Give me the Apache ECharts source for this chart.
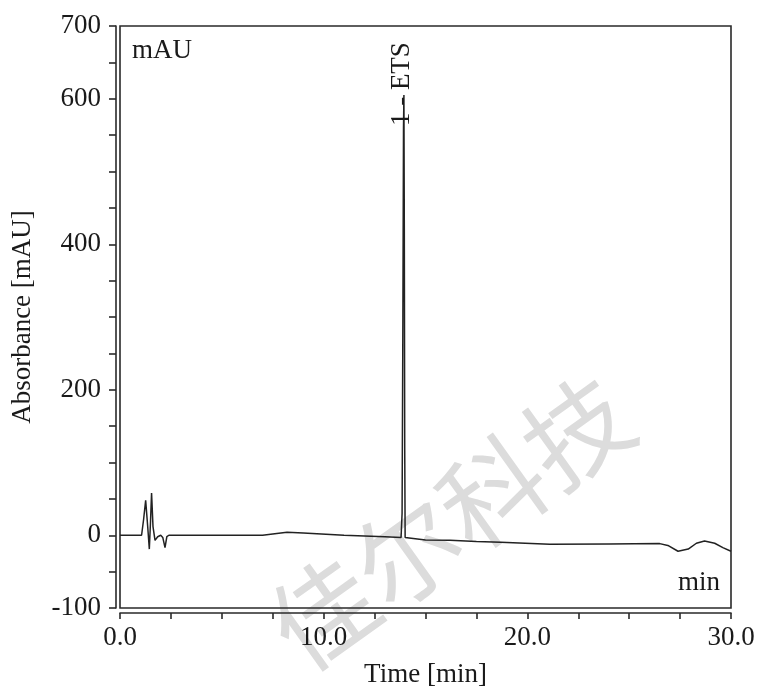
<!DOCTYPE html>
<html>
<head>
<meta charset="utf-8">
<script src="https://cdn.jsdelivr.net/npm/echarts@6/dist/echarts.min.js"></script>
<style>
  html, body { margin: 0; padding: 0; background: #fff; }
  #chart { width: 759px; height: 690px; }
</style>
</head>
<body>
<div id="chart"></div>
<script>
// Chromatogram trace: retention time (min) and detector absorbance (mAU)
const timeMin = [0, 1.06, 1.16, 1.26, 1.36, 1.44, 1.50, 1.55, 1.62, 1.72, 1.85, 2.00, 2.10, 2.21, 2.30, 2.40,
  5.0, 7.0, 7.6, 8.2, 9.0, 11.0, 13.0, 13.80, 13.85, 13.89, 13.92, 13.94, 13.96, 13.98, 14.00, 14.07,
  15.0, 16.2, 17.5, 18.7, 21.1, 24.0, 26.5, 26.9, 27.4, 27.9, 28.3, 28.7, 29.2, 29.6, 30.0];
const absorbance = [0, 0, 22, 48, 12, -19, 20, 58, 12, -7, -2, 0, -3, -17, -2, 0,
  0, 0, 2, 4, 3, 0, -2, -3, 30, 300, 560, 605, 420, 120, -3, -5.5,
  -6.5, -7, -8.5, -9.6, -12.5, -12, -11.5, -14, -22, -19, -11, -8, -11, -17, -22];

// Peak annotation
const peakName = '1 - ETS';

// Axis tick labels that are written out
const xTickLabels = [0, 10, 20, 30];
const yTickLabels = [-100, 0, 200, 400, 600, 700];

const FONT = 'Liberation Serif';
const INK = '#1a1a1a';

const chart = echarts.init(document.getElementById('chart'), null, { renderer: 'canvas' });

const series = timeMin.map((t, i) => [t, absorbance[i]]);

chart.setOption({
  animation: false,
  backgroundColor: '#fff',
  grid: {
    left: 120, right: 28, top: 26, bottom: 82,
    containLabel: false, outerBoundsMode: 'none',
    show: true, borderColor: '#2a2a2a', borderWidth: 1.6, backgroundColor: 'transparent', z: 3
  },
  xAxis: {
    type: 'value', min: 0, max: 30, interval: 2.5, offset: 5,
    name: 'Time [min]', nameLocation: 'middle', nameGap: 48,
    nameTextStyle: { fontFamily: FONT, fontSize: 27, color: INK },
    axisLine: { show: true, onZero: false, lineStyle: { color: '#2a2a2a', width: 1.6 } },
    axisTick: { show: true, length: 6, lineStyle: { color: '#2a2a2a', width: 1.6 } },
    splitLine: { show: false },
    axisLabel: {
      fontFamily: FONT, fontSize: 27, color: INK, margin: 11,
      formatter: v => xTickLabels.some(x => Math.abs(x - v) < 1e-6) ? v.toFixed(1) : ''
    }
  },
  yAxis: {
    type: 'value', min: -100, max: 700, interval: 50, offset: 4,
    name: 'Absorbance [mAU]', nameLocation: 'middle', nameGap: 80, nameRotate: 90,
    nameTextStyle: { fontFamily: FONT, fontSize: 27, color: INK },
    axisLine: { show: true, onZero: false, lineStyle: { color: '#2a2a2a', width: 1.6 } },
    axisTick: { show: true, length: 7, lineStyle: { color: '#2a2a2a', width: 1.6 } },
    splitLine: { show: false },
    axisLabel: {
      fontFamily: FONT, fontSize: 27, color: INK, margin: 15,
      formatter: v => yTickLabels.some(y => Math.abs(y - v) < 1e-6) ? String(v) : ''
    }
  },
  series: [{
    type: 'line', data: series, showSymbol: false, smooth: false, z: 4,
    lineStyle: { color: '#222', width: 1.5 }
  }]
});

// Place the peak label and corner units using the chart's own coordinate mapping
const peakIdx = absorbance.indexOf(Math.max(...absorbance));
const peakPx = chart.convertToPixel({ gridIndex: 0 }, [timeMin[peakIdx], absorbance[peakIdx]]);
const rect = chart.getModel().getComponent('grid').coordinateSystem.getRect();

chart.setOption({
  graphic: [
    {
      type: 'text', z: 0, silent: true,
      x: 450, y: 522, rotation: 0.62,
      style: {
        text: '佳尔科技', font: '104px "Noto Sans CJK SC"',
        fill: '#dcdcdc', align: 'center', verticalAlign: 'middle'
      }
    },
    {
      type: 'text', z: 10,
      x: rect.x + 12, y: rect.y + 25,
      style: { text: 'mAU', font: '27px "' + FONT + '"', fill: INK, align: 'left', verticalAlign: 'middle' }
    },
    {
      type: 'text', z: 10,
      x: rect.x + rect.width - 11, y: rect.y + rect.height - 25,
      style: { text: 'min', font: '27px "' + FONT + '"', fill: INK, align: 'right', verticalAlign: 'middle' }
    },
    {
      type: 'text', z: 10,
      x: peakPx[0] - 2, y: peakPx[1] + 31, rotation: Math.PI / 2,
      style: { text: peakName, font: '27px "' + FONT + '"', fill: INK, align: 'left', verticalAlign: 'middle' }
    }
  ]
});
</script>
</body>
</html>
